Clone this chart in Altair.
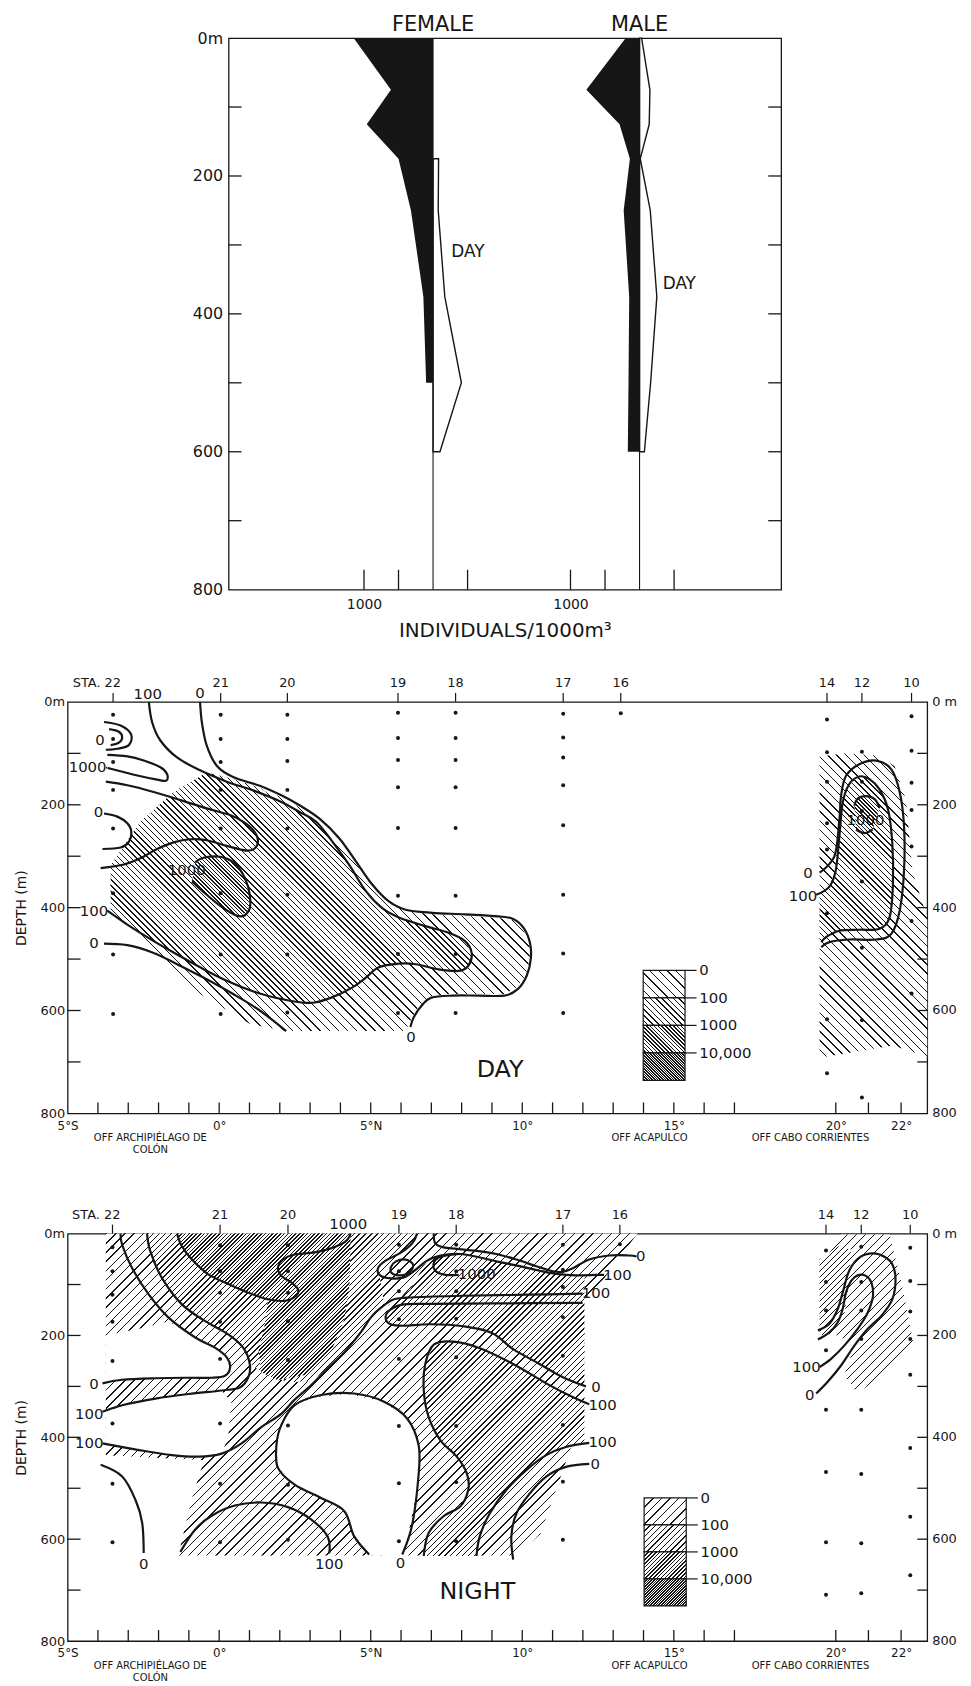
import math
import altair as alt
import pandas as pd

FONT = "DejaVu Sans"
INK = "#161616"
PAPER = "#ffffff"

# ======================= DATA =======================
# ---- upper figure: individuals / 1000 m3 at each sampled depth ----
female_night_depth = [0, 75, 125, 175, 250, 375, 500]
female_night_value = [1150, 610, 960, 500, 320, 140, 100]
female_day_depth = [175, 250, 375, 500, 600]
female_day_value = [80, 75, 170, 410, 100]
male_night_depth = [0, 75, 125, 175, 250, 375, 500, 600]
male_night_value = [200, 770, 290, 140, 230, 150, 160, 170]
male_day_depth = [0, 75, 125, 175, 250, 375, 500, 600]
male_day_value = [30, 150, 140, 10, 155, 250, 160, 70]
sex_names = ["FEMALE", "MALE"]
day_note_offset = [265, 335]
day_note_depth = [311, 357]
scale_ticks = [-1000, -500, 500]
depth_label_values = [0, 200, 400, 600, 800]
depth_tick_values = [100, 200, 300, 400, 500, 600, 700]
right_depth_labels = ["0 m", "200", "400", "600", "800"]

# ---- sections ----
station_names = ["22", "21", "20", "19", "18", "17", "16", "14", "12", "10"]
day_station_lat = [-3.5, 0.05, 2.25, 5.9, 7.8, 11.35, 13.25, 19.74, 20.8, 22.32]
day_sample_depths = [
    [25, 72, 117, 171, 246, 372, 491, 607],
    [25, 72, 117, 171, 246, 372, 491, 607],
    [25, 72, 115, 171, 246, 375, 491, 604],
    [21, 70, 113, 166, 245, 377, 490, 605],
    [21, 70, 113, 166, 245, 377, 490, 605],
    [23, 69, 108, 162, 240, 375, 489, 605],
    [22],
    [34, 98, 155, 236, 287, 411, 617, 722],
    [97, 155, 212, 349, 478, 619, 769],
    [28, 95, 157, 210, 281, 426, 567],
]
night_station_lat = [-3.52, 0.03, 2.27, 5.93, 7.82, 11.34, 13.22, 19.71, 20.78, 22.28]
night_sample_depths = [
    [27, 74, 120, 173, 250, 373, 491, 606],
    [23, 74, 116, 173, 246, 373, 491, 606],
    [23, 74, 116, 172, 248, 377, 493, 601],
    [22, 74, 113, 168, 246, 378, 490, 604],
    [22, 74, 113, 167, 243, 378, 488, 604],
    [22, 71, 105, 164, 240, 376, 487, 601],
    [21],
    [33, 95, 151, 229, 346, 468, 606, 709],
    [26, 95, 151, 207, 346, 472, 608, 706],
    [28, 93, 153, 207, 277, 421, 556, 671],
]
lat_label_values = [-5, 0, 5, 10, 15, 20, 22]
lat_label_texts = ["5°S", "0°", "5°N", "10°", "15°", "20°", "22°"]
lat_tick_values = list(range(-4, 18)) + [20, 21, 22]
region_names = ["OFF ARCHIPIÉLAGO DE", "COLÓN", "OFF ACAPULCO", "OFF CABO CORRIENTES"]
region_lat = [-2.27, -2.27, 14.2, 19.25]
region_row = [0, 1, 0, 0]
legend_bounds = ["0", "100", "1000", "10,000"]
legend_levels = ["light", "mid", "dense", "densest"]

# ---- DAY section: isolines (lat, depth) ----
DAY_LINES = {
    "c100_top": [(-2.32, 0), (-2.21, 40), (-1.94, 75), (-1.39, 108), (-0.63, 133), (0.25, 155), (1.12, 172), (2.0, 193), (2.65, 214), (3.20, 233), (3.74, 272), (4.29, 317), (4.84, 368), (5.38, 401), (5.93, 419), (6.80, 436), (7.57, 449), (8.11, 465), (8.33, 488), (8.22, 513), (7.90, 523), (7.24, 520), (6.48, 510), (5.93, 509), (5.27, 516), (4.84, 536), (4.40, 555), (3.74, 574), (3.09, 585), (2.43, 582), (1.34, 567), (0.25, 542), (-0.63, 516), (-1.39, 491), (-2.16, 465), (-3.03, 433), (-3.69, 406)],
    "c0_top": [(-0.63, 0), (-0.57, 40), (-0.41, 85), (-0.08, 124), (0.46, 146), (1.34, 163), (2.10, 183), (2.65, 201), (3.31, 227), (3.96, 265), (4.51, 310), (5.05, 355), (5.60, 388), (6.15, 404), (7.02, 410), (8.11, 413), (9.21, 417), (9.70, 422), (10.05, 440), (10.26, 470), (10.28, 500), (10.15, 532), (9.86, 558), (9.42, 571), (8.55, 571), (7.7, 571), (7.0, 575), (6.69, 590), (6.42, 613), (6.31, 632)],
    "c0_low": [(-3.80, 470), (-3.03, 473), (-2.16, 488), (-1.39, 510), (-0.52, 536), (0.46, 568), (1.34, 600), (2.21, 640)],
    "arc_out": [(-3.80, 39), (-3.25, 46), (-2.90, 64), (-2.98, 84), (-3.36, 91), (-3.74, 93)],
    "arc_in": [(-3.63, 53), (-3.31, 58), (-3.20, 69), (-3.31, 79), (-3.58, 84)],
    "t1000": [(-3.69, 103), (-3.03, 106), (-2.49, 114), (-1.94, 127), (-1.72, 140), (-1.74, 153), (-2.05, 151), (-2.70, 143), (-3.58, 130), (-3.69, 128)],
    "t0_250": [(-3.80, 217), (-3.36, 223), (-3.03, 236), (-2.90, 252), (-2.98, 272), (-3.25, 283), (-3.85, 286)],
    "tongue": [(-3.74, 155), (-3.03, 162), (-2.16, 175), (-1.28, 191), (-0.41, 207), (0.36, 220), (0.79, 233), (1.12, 249), (1.28, 269), (1.17, 285), (0.90, 289), (0.25, 280), (-0.41, 269), (-0.96, 267), (-1.50, 273), (-2.05, 286), (-2.60, 304), (-3.14, 316), (-3.91, 323)],
    "oval": [(-0.90, 349), (-0.41, 375), (0.14, 401), (0.68, 417), (0.99, 404), (1.01, 375), (0.85, 343), (0.52, 314), (0.03, 301), (-0.52, 303), (-0.79, 312)],
    "r_c0": [(19.52, 332), (19.96, 300), (20.11, 229), (20.16, 183), (20.31, 144), (20.72, 121), (21.24, 114), (21.70, 131), (21.96, 176), (22.09, 242), (22.09, 327), (21.96, 405), (21.70, 451), (21.24, 462), (20.41, 462), (19.81, 467), (19.57, 477)],
    "r_c100": [(19.42, 375), (19.81, 359), (20.0, 327), (20.11, 261), (20.21, 196), (20.41, 160), (20.72, 145), (21.03, 150), (21.34, 170), (21.6, 209), (21.73, 274), (21.75, 353), (21.65, 418), (21.34, 441), (20.72, 443), (20.11, 445), (19.72, 457), (19.57, 467)],
    "r_1000a": [(20.57, 202), (20.67, 188), (20.93, 183), (21.19, 189), (21.34, 206)],
    "r_1000b": [(20.62, 248), (20.88, 255), (21.13, 248)],
}
DAY_FILLS = [
    ([(-3.58, 317), (-2.60, 233), (-1.50, 175), (-0.41, 137), (0.46, 150), (1.34, 167), (2.10, 187), (2.65, 205), (3.31, 231), (3.96, 269), (4.51, 314), (5.05, 359), (5.60, 391), (6.15, 407), (7.02, 413), (8.11, 416), (9.21, 420), (9.70, 424), (10.02, 442), (10.23, 470), (10.25, 500), (10.12, 530), (9.84, 555), (9.40, 568), (8.55, 568), (7.6, 568), (6.9, 573), (6.55, 595), (6.3, 620), (6.15, 640), (3.74, 640), (2.21, 640), (1.01, 626), (-0.63, 568), (-2.27, 484), (-3.58, 407)], "light"),
    ([(-3.58, 317), (-2.60, 233), (-1.50, 175), (-0.41, 137), (0.46, 150), (1.34, 167), (2.0, 193), (2.65, 214), (3.20, 233), (3.74, 272), (4.29, 317), (4.84, 368), (5.38, 401), (5.93, 419), (6.80, 436), (7.57, 449), (8.11, 465), (8.33, 488), (8.22, 513), (7.90, 523), (7.24, 520), (6.48, 510), (5.93, 509), (5.27, 516), (4.84, 536), (4.40, 555), (3.74, 574), (3.09, 585), (2.43, 582), (1.34, 567), (0.25, 542), (-0.63, 516), (-1.39, 491), (-2.16, 465), (-3.03, 433), (-3.58, 410)], "mid"),
    ([(-0.90, 349), (-0.41, 375), (0.14, 401), (0.68, 417), (0.99, 404), (1.01, 375), (0.85, 343), (0.52, 314), (0.03, 301), (-0.52, 303), (-0.79, 315)], "dense"),
    ([(19.52, 106), (20.3, 100), (21.3, 104), (21.8, 125), (22.15, 190), (22.35, 330), (22.8, 420), (22.8, 690), (21.75, 668), (19.52, 692)], "light"),
    ([(19.52, 372), (19.81, 359), (20.0, 327), (20.11, 261), (20.21, 196), (20.41, 160), (20.72, 145), (21.03, 150), (21.34, 170), (21.6, 209), (21.73, 274), (21.75, 353), (21.65, 418), (21.34, 441), (20.72, 443), (20.11, 445), (19.72, 457), (19.52, 470)], "mid"),
    ([(20.57, 202), (20.67, 188), (20.93, 183), (21.19, 189), (21.34, 206), (21.13, 248), (20.88, 255), (20.62, 248)], "dense"),
]
DAY_LABELS = [("100", -2.36, -16), ("0", -0.63, -18), ("0", -3.93, 75), ("1000", -4.34, 127), ("0", -3.98, 214), ("1000", -1.07, 327), ("100", -4.13, 406), ("0", -4.13, 468), ("0", 6.33, 652), ("0", 19.18, 333), ("100", 19.03, 377), ("1000", 20.91, 230)]

# ---- NIGHT section ----
NIGHT_LINES = {
    "n1_0": [(-3.25, 0), (-3.20, 22), (-2.87, 68), (-2.32, 120), (-1.67, 165), (-0.79, 204), (-0.14, 224), (0.25, 243), (0.36, 263), (0.19, 279), (-0.25, 283), (-1.01, 283), (-2.10, 284), (-3.20, 287), (-3.85, 294)],
    "n2_100": [(-2.38, 0), (-2.27, 35), (-1.89, 87), (-1.23, 139), (-0.46, 172), (0.30, 198), (0.79, 224), (1.01, 256), (0.96, 282), (0.68, 302), (0.08, 308), (-1.01, 315), (-2.10, 324), (-3.20, 337), (-3.85, 350)],
    "n3_1000": [(-1.39, 0), (-1.23, 25), (-0.90, 51), (-0.36, 80), (0.30, 99), (0.96, 116), (1.61, 129), (2.16, 132), (2.54, 122), (2.60, 109), (2.38, 96), (2.05, 83), (1.94, 67), (2.10, 51), (2.49, 41), (3.03, 38), (3.58, 31), (4.02, 21), (4.23, 12), (4.34, 0)],
    "n5_100": [(-3.85, 412), (-2.65, 425), (-1.56, 435), (-0.68, 438), (0.08, 432), (0.74, 412), (1.39, 380), (2.05, 354), (2.49, 326), (3.03, 298), (3.58, 265), (4.13, 233), (4.67, 194), (5.0, 165), (5.33, 146), (5.77, 129), (6.42, 125), (8.06, 122), (10.24, 120), (11.99, 118)],
    "tongue_0": [(11.99, 136), (9.15, 137), (6.97, 138), (6.09, 139), (5.66, 149), (5.49, 165), (5.66, 178), (6.09, 181), (6.97, 178), (8.06, 182), (9.0, 195), (9.70, 227), (10.57, 256), (11.34, 282), (12.10, 300)],
    "blob_0": [(6.04, 630), (6.37, 571), (6.58, 473), (6.58, 415), (6.20, 363), (5.44, 330), (4.45, 314), (3.36, 317), (2.49, 337), (2.05, 376), (1.89, 415), (1.94, 460), (2.49, 493), (3.36, 519), (4.13, 545), (4.45, 594), (4.95, 630)],
    "s18_100": [(12.21, 335), (11.66, 321), (10.79, 294), (9.70, 256), (8.60, 225), (7.73, 212), (7.08, 218), (6.80, 256), (6.75, 308), (6.91, 360), (7.30, 406), (7.84, 438), (8.17, 471), (8.22, 503), (7.95, 536), (7.40, 555), (6.91, 588), (6.75, 633)],
    "lr_100": [(12.21, 411), (11.44, 419), (10.79, 435), (10.14, 464), (9.48, 503), (8.93, 549), (8.60, 594), (8.49, 633)],
    "lr_0": [(12.21, 452), (11.44, 458), (10.79, 477), (10.25, 510), (9.81, 549), (9.64, 594), (9.70, 640)],
    "dome_100": [(-1.28, 625), (-0.79, 581), (-0.25, 554), (0.52, 534), (1.39, 528), (2.27, 537), (3.03, 561), (3.58, 595), (3.63, 628)],
    "ll_0": [(-3.91, 454), (-3.20, 477), (-2.76, 523), (-2.54, 568), (-2.49, 627)],
    "top_0": [(7.08, 0), (7.13, 19), (7.40, 27), (7.84, 30), (8.50, 34), (9.15, 40), (9.81, 51), (10.46, 64), (11.01, 74), (11.34, 75), (11.67, 68), (12.21, 51), (12.87, 43), (13.52, 43), (13.77, 45)],
    "top_100": [(6.53, 0), (6.37, 19), (5.98, 38), (5.49, 53), (5.24, 68), (5.31, 82), (5.66, 88), (6.09, 86), (6.48, 71), (6.86, 53), (7.30, 43), (7.95, 40), (8.61, 47), (9.26, 56), (9.92, 64), (10.57, 73), (11.12, 79), (11.77, 82), (12.43, 81), (12.70, 81)],
    "t1000_b": [(7.90, 81), (7.46, 81), (7.13, 73), (7.08, 58), (7.24, 47), (7.57, 42), (7.95, 40)],
    "loop19": [(5.66, 66), (5.82, 55), (6.15, 51), (6.40, 61), (6.26, 77), (5.93, 82), (5.68, 77), (5.66, 66)],
    "r_0": [(19.42, 314), (19.76, 291), (20.16, 259), (20.57, 220), (20.98, 187), (21.40, 161), (21.73, 129), (21.83, 90), (21.73, 60), (21.50, 46), (21.14, 39), (20.72, 47), (20.41, 73), (20.21, 116), (20.06, 148), (19.81, 177), (19.47, 190)],
    "r_100": [(19.52, 262), (19.86, 246), (20.26, 220), (20.67, 187), (20.98, 155), (21.14, 122), (21.09, 96), (20.92, 83), (20.67, 82), (20.47, 93), (20.31, 116), (20.21, 148), (20.06, 174), (19.81, 194), (19.47, 208)],
}
NIGHT_FILLS = [
    ([(-3.74, 0), (13.8, 0), (12.05, 140), (12.05, 345), (10.6, 590), (9.8, 632), (-1.35, 632), (-0.9, 520), (-0.5, 445), (-3.74, 435)], "light"),
    ([(-3.74, 200), (-2.5, 185), (-1.67, 172), (-0.79, 204), (-0.14, 224), (0.25, 243), (0.36, 263), (0.19, 279), (-0.25, 283), (-1.01, 283), (-2.10, 284), (-3.20, 287), (-3.74, 292)], "white"),
    ([(-3.74, 352), (-3.20, 337), (-2.10, 324), (-1.01, 315), (0.08, 308), (0.4, 330), (0.3, 400), (0.08, 432), (-0.68, 438), (-1.56, 435), (-2.65, 425), (-3.74, 413)], "white"),
    ([(1.89, 415), (1.94, 460), (2.49, 493), (3.36, 519), (4.13, 545), (4.45, 594), (4.95, 632), (6.1, 633), (6.31, 568), (6.53, 503), (6.64, 438), (6.53, 399), (6.20, 360), (5.33, 328), (4.23, 315), (3.14, 321), (2.49, 337), (2.05, 376)], "white"),
    ([(-2.38, 0), (6.53, 0), (6.37, 19), (5.98, 38), (5.49, 53), (5.24, 68), (5.31, 90), (5.45, 140), (5.0, 165), (4.67, 194), (4.13, 233), (3.58, 265), (3.03, 290), (2.3, 292), (1.5, 275), (1.01, 256), (0.79, 224), (0.30, 198), (-0.46, 172), (-1.23, 139), (-1.89, 87), (-2.27, 35)], "mid"),
    ([(6.86, 53), (7.30, 43), (7.95, 40), (8.61, 47), (9.26, 56), (9.92, 64), (10.57, 73), (11.12, 79), (11.77, 82), (12.05, 82), (12.05, 300), (11.34, 282), (10.57, 256), (9.70, 227), (9.0, 195), (8.06, 182), (6.97, 178), (6.09, 181), (5.66, 178), (5.49, 165), (5.6, 140), (5.9, 128), (6.3, 110), (6.6, 80)], "mid"),
    ([(7.08, 218), (7.73, 212), (8.60, 225), (9.70, 256), (10.79, 294), (11.66, 321), (12.05, 335), (12.05, 411), (11.44, 419), (10.79, 435), (10.14, 464), (9.48, 503), (8.93, 549), (8.60, 594), (8.49, 633), (6.75, 633), (6.91, 588), (7.40, 555), (7.95, 536), (8.22, 503), (8.17, 471), (7.84, 438), (7.30, 406), (6.91, 360), (6.75, 308), (6.80, 256)], "mid"),
    ([(-1.39, 0), (-1.23, 25), (-0.90, 51), (-0.36, 80), (0.30, 99), (0.96, 116), (1.61, 129), (1.5, 180), (1.3, 230), (1.39, 272), (1.94, 288), (3.03, 275), (3.70, 230), (4.13, 168), (4.30, 100), (4.34, 0)], "dense"),
    ([(19.52, 44), (20.16, 2), (21.65, 2), (22.01, 96), (22.37, 213), (21.40, 278), (20.67, 314), (20.26, 278), (20.57, 220), (20.06, 200), (19.52, 194)], "light"),
    ([(19.52, 51), (20.06, 25), (20.47, 31), (20.41, 96), (20.26, 161), (19.96, 194), (19.52, 200)], "mid"),
]
NIGHT_LABELS = [("1000", 4.26, -18), ("0", -4.13, 295), ("100", -4.29, 354), ("100", -4.29, 412), ("0", -2.49, 649), ("100", 3.63, 649), ("0", 5.98, 646), ("1000", 8.50, 79), ("0", 13.91, 45), ("100", 13.14, 81), ("100", 12.43, 116), ("0", 12.43, 302), ("100", 12.65, 337), ("100", 12.65, 409), ("0", 12.41, 452), ("100", 19.13, 262), ("0", 19.23, 317)]

# ======================= LAYOUT / STYLE =======================
LAT_BREAKS = [-5, 17, 20, 22.8]
LAT_PIX = [0, 671, 773, 865]
SEC_W = 865
DAY_H = 414
NIGHT_H = 410
TOP_W = 556
TOP_H = 555
FEMALE_BASE = 2960
MALE_BASE = 5950
BASES = [FEMALE_BASE, MALE_BASE]
HATCH = {"light": (6.5, 1.0), "mid": (4.2, 1.0), "dense": (2.7, 1.1), "densest": (1.9, 1.1)}


def xpx(lat):
    b, p = LAT_BREAKS, LAT_PIX
    i = 0 if lat <= b[1] else (1 if lat <= b[2] else 2)
    return p[i] + (lat - b[i]) * (p[i + 1] - p[i]) / (b[i + 1] - b[i])


def hatch(xs, ys, level, direction):
    if level == "white":
        return PAPER
    spacing, lw = HATCH[level]
    W = max(max(xs) - min(xs), 2.0)
    H = max(max(ys) - min(ys), 2.0)
    n = max(2, int(round((W + H) / (spacing * math.sqrt(2)))))
    f = min(lw / spacing, 0.8)
    stops = []
    for i in range(n):
        a, b, c = i / n, (i + f) / n, (i + 1) / n
        stops += [{"offset": round(a, 5), "color": INK}, {"offset": round(b, 5), "color": INK},
                  {"offset": round(b, 5), "color": PAPER}, {"offset": round(c, 5), "color": PAPER}]
    k = (W + H) / (W * W + H * H)
    if direction == "\\":
        return {"gradient": "linear", "x1": 1, "y1": 0, "x2": round(1 - k * W, 5), "y2": round(k * H, 5), "stops": stops}
    return {"gradient": "linear", "x1": 0, "y1": 0, "x2": round(k * W, 5), "y2": round(k * H, 5), "stops": stops}


def pts_df(pts):
    return pd.DataFrame({"lat": [p[0] for p in pts], "depth": [p[1] for p in pts], "i": list(range(len(pts)))})


def section(H, st_lat, st_depths, fills, direction, lines, labels, name, name_pos, legend_box):
    ppm = H / 800.0
    XS = alt.Scale(domain=LAT_BREAKS, range=LAT_PIX, zero=False, nice=False)
    YS = alt.Scale(domain=[0, 800], reverse=True, zero=False, nice=False)
    lab_expr = " : ".join("datum.value == %s ? '%s'" % (v, t) for v, t in zip(lat_label_values, lat_label_texts)) + " : ''"
    AX = alt.Axis(values=lat_label_values, labelExpr=lab_expr, ticks=False, domain=False, grid=False,
                  labelFlush=False, labelOverlap=False, labelFontSize=12, labelPadding=7, title=None)
    AY = alt.Axis(values=depth_label_values, labelExpr="datum.value == 0 ? '0m' : datum.label", ticks=False,
                  domain=False, grid=False, labelFontSize=13, labelPadding=3, title="DEPTH (m)",
                  titleFontSize=14, titleFontWeight="normal", titlePadding=12)
    X = alt.X("lat:Q", scale=XS, axis=AX)
    Y = alt.Y("depth:Q", scale=YS, axis=AY)
    layers = []
    for pts, level in fills:
        fill = hatch([xpx(p[0]) for p in pts], [p[1] * ppm for p in pts], level, direction)
        layers.append(alt.Chart(pts_df(pts)).mark_line(filled=True, fill=fill, interpolate="linear-closed",
                                                       strokeOpacity=0).encode(x=X, y=Y, order=alt.Order("i:Q")))
    rows = []
    for key, pts in lines.items():
        for i, (la, de) in enumerate(pts):
            rows.append({"id": key, "i": i, "lat": la, "depth": de})
    layers.append(alt.Chart(pd.DataFrame(rows)).mark_line(color=INK, strokeWidth=2.2, interpolate="cardinal")
                  .encode(x=X, y=Y, detail="id:N", order="i:Q"))
    dots = pd.DataFrame([{"lat": la, "depth": d} for la, ds in zip(st_lat, st_depths) for d in ds])
    layers.append(alt.Chart(dots).mark_circle(size=16, color=INK, opacity=1).encode(x=X, y=Y))
    lab = pd.DataFrame({"t": [l[0] for l in labels], "lat": [l[1] for l in labels], "depth": [l[2] for l in labels]})
    layers.append(alt.Chart(lab).mark_text(font=FONT, fontSize=15, color=INK, baseline="middle")
                  .encode(x=X, y=Y, text="t:N"))
    nm = pd.DataFrame({"t": [name], "lat": [name_pos[0]], "depth": [name_pos[1]]})
    layers.append(alt.Chart(nm).mark_text(font=FONT, fontSize=24, color=INK, baseline="middle")
                  .encode(x=X, y=Y, text="t:N"))
    st = pd.DataFrame({"lat": st_lat, "name": station_names})
    layers.append(alt.Chart(st).mark_rule(color=INK, strokeWidth=1.2).encode(x=X, y=alt.value(-9), y2=alt.value(0)))
    layers.append(alt.Chart(st.iloc[1:]).mark_text(font=FONT, fontSize=13, color=INK, baseline="middle")
                  .encode(x=X, y=alt.value(-19), text="name:N"))
    first = st.iloc[:1].copy()
    first["name"] = "STA. " + first["name"]
    layers.append(alt.Chart(first).mark_text(font=FONT, fontSize=13, color=INK, baseline="middle", align="right", dx=8)
                  .encode(x=X, y=alt.value(-19), text="name:N"))
    dt = pd.DataFrame({"depth": depth_tick_values})
    layers.append(alt.Chart(dt).mark_rule(color=INK, strokeWidth=1.3).encode(y=Y, x=alt.value(0), x2=alt.value(13)))
    layers.append(alt.Chart(dt).mark_rule(color=INK, strokeWidth=1.3).encode(y=Y, x=alt.value(SEC_W - 10), x2=alt.value(SEC_W)))
    rl = pd.DataFrame({"depth": depth_label_values, "t": right_depth_labels})
    layers.append(alt.Chart(rl).mark_text(font=FONT, fontSize=13, color=INK, align="left", baseline="middle")
                  .encode(y=Y, x=alt.value(SEC_W + 5), text="t:N"))
    bt = pd.DataFrame({"lat": lat_tick_values})
    layers.append(alt.Chart(bt).mark_rule(color=INK, strokeWidth=1.3).encode(x=X, y=alt.value(H - 11), y2=alt.value(H)))
    rg = pd.DataFrame({"lat": region_lat, "t": region_names, "row": region_row})
    for r, off in [(0, 25), (1, 37)]:
        layers.append(alt.Chart(rg[rg["row"] == r]).mark_text(font=FONT, fontSize=10, color=INK, baseline="middle")
                      .encode(x=X, y=alt.value(H + off), text="t:N"))
    lat0, lat1, top, ch = legend_box
    for k, lv in enumerate(legend_levels):
        d0, d1 = top + k * ch, top + (k + 1) * ch
        fill = hatch([xpx(lat0), xpx(lat1)], [d0 * ppm, d1 * ppm], lv, direction)
        cell = pd.DataFrame({"lat": [lat0], "lat2": [lat1], "depth": [d0], "depth2": [d1]})
        layers.append(alt.Chart(cell).mark_rect(fill=fill, stroke=INK, strokeWidth=1.2)
                      .encode(x=X, x2="lat2:Q", y=Y, y2="depth2:Q"))
    lg = pd.DataFrame({"t": legend_bounds, "depth": [top + k * ch for k in range(len(legend_bounds))],
                       "lat": [lat1] * len(legend_bounds), "lat2": [lat1 + 0.38] * len(legend_bounds)})
    layers.append(alt.Chart(lg).mark_rule(color=INK, strokeWidth=1.2).encode(x=X, x2="lat2:Q", y=Y))
    lgt = lg.copy()
    lgt["lat"] = lat1 + 0.47
    layers.append(alt.Chart(lgt).mark_text(font=FONT, fontSize=15, color=INK, align="left", baseline="middle")
                  .encode(x=X, y=Y, text="t:N"))
    return alt.layer(*layers).properties(width=SEC_W, height=H)


# ======================= UPPER FIGURE =======================
XT = alt.Scale(domain=[0, 8000], zero=False, nice=False)
YT = alt.Scale(domain=[0, 800], reverse=True, zero=False, nice=False)
AXT = alt.Axis(values=[b + scale_ticks[0] for b in BASES], labelExpr="'1000'", ticks=False, domain=False, grid=False,
               labelFlush=False, labelFontSize=14, labelPadding=8, title="INDIVIDUALS/1000m³", titleFontSize=20,
               titleFontWeight="normal", titlePadding=9)
AYT = alt.Axis(values=depth_label_values, labelExpr="datum.value == 0 ? '0m' : datum.label", ticks=False,
               domain=False, grid=False, labelFontSize=16, labelPadding=6, title=None)
XK = alt.X("x:Q", scale=XT, axis=AXT)
YK = alt.Y("depth:Q", scale=YT, axis=AYT)


def kite_df(depths, values, base, sign, sex):
    return pd.DataFrame({"sex": sex, "depth": depths, "x": [base + sign * v for v in values], "x2": base})


night_k = pd.concat([kite_df(female_night_depth, female_night_value, FEMALE_BASE, -1, "F"),
                     kite_df(male_night_depth, male_night_value, MALE_BASE, -1, "M")])
day_k = pd.concat([kite_df(female_day_depth, female_day_value, FEMALE_BASE, 1, "F"),
                   kite_df(male_day_depth, male_day_value, MALE_BASE, 1, "M")])
top_layers = [
    alt.Chart(night_k).mark_area(orient="horizontal", color=INK).encode(y=YK, x=XK, x2="x2:Q", detail="sex:N"),
    alt.Chart(day_k).mark_area(orient="horizontal", fill=PAPER, stroke=INK, strokeWidth=1.4)
    .encode(y=YK, x=XK, x2="x2:Q", detail="sex:N"),
    alt.Chart(pd.DataFrame({"x": BASES, "depth": [0, 0], "depth2": [800, 800]})).mark_rule(color=INK, strokeWidth=1.1)
    .encode(x=XK, y=YK, y2="depth2:Q"),
    alt.Chart(pd.DataFrame({"x": BASES, "t": sex_names})).mark_text(font=FONT, fontSize=21, color=INK, baseline="middle")
    .encode(x=XK, y=alt.value(-13), text="t:N"),
    alt.Chart(pd.DataFrame({"x": [b + o for b, o in zip(BASES, day_note_offset)], "depth": day_note_depth, "t": ["DAY", "DAY"]}))
    .mark_text(font=FONT, fontSize=17, color=INK, align="left", baseline="middle").encode(x=XK, y=YK, text="t:N"),
    alt.Chart(pd.DataFrame({"depth": depth_tick_values})).mark_rule(color=INK, strokeWidth=1.3)
    .encode(y=YK, x=alt.value(0), x2=alt.value(13)),
    alt.Chart(pd.DataFrame({"depth": depth_tick_values})).mark_rule(color=INK, strokeWidth=1.3)
    .encode(y=YK, x=alt.value(TOP_W - 13), x2=alt.value(TOP_W)),
    alt.Chart(pd.DataFrame({"x": [b + t for b in BASES for t in scale_ticks]})).mark_rule(color=INK, strokeWidth=1.3)
    .encode(x=XK, y=alt.value(TOP_H - 20), y2=alt.value(TOP_H)),
]
top = alt.layer(*top_layers).properties(width=TOP_W, height=TOP_H)


def spacer(w, h):
    return alt.Chart(pd.DataFrame({"v": [0]})).mark_point(opacity=0, size=0).encode(
        x=alt.value(w / 2), y=alt.value(h / 2)).properties(width=w, height=h, view=alt.ViewBackground(stroke="transparent"))


day_chart = section(DAY_H, day_station_lat, day_sample_depths, DAY_FILLS, "\\", DAY_LINES, DAY_LABELS,
                    "DAY", (9.27, 716), (13.99, 15.37, 522, 53.5))
night_chart = section(NIGHT_H, night_station_lat, night_sample_depths, NIGHT_FILLS, "/", NIGHT_LINES, NIGHT_LABELS,
                      "NIGHT", (8.52, 703), (14.02, 15.41, 519, 53))

chart = alt.vconcat(
    alt.hconcat(spacer(123, 10), top, spacing=0),
    spacer(1, 33),
    day_chart,
    spacer(1, 50),
    night_chart,
    spacing=0,
).properties(padding={"top": 0, "left": 5, "right": 5, "bottom": 5}).configure_view(
    stroke=INK, strokeWidth=1.3).configure_axis(
    labelFont=FONT, titleFont=FONT, labelColor=INK, titleColor=INK)

chart.save("out.html", embed_options={"renderer": "svg", "actions": False})
